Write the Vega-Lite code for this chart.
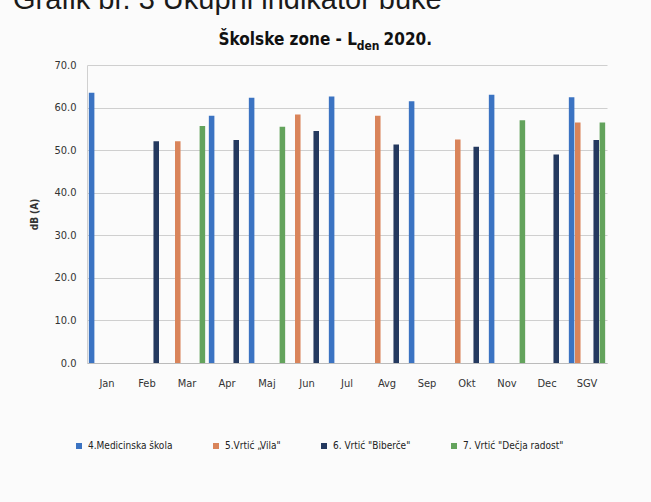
{
  "$schema": "https://vega.github.io/schema/vega-lite/v6.json",
  "background": "#fbfbfb",
  "padding": {"left": 12, "top": -14, "right": 56, "bottom": 54},
  "title": {
    "text": "Grafik br. 3 Ukupni indikator buke",
    "anchor": "start",
    "frame": "bounds",
    "font": "Liberation Sans",
    "fontSize": 29,
    "fontWeight": "normal",
    "color": "#1a1a1a",
    "dx": -17,
    "offset": 16
  },
  "config": {
    "font": "DejaVu Sans Condensed, Liberation Sans, sans-serif",
    "view": {"stroke": null}
  },
  "vconcat": [
    {
      "width": 520,
      "height": 298,
      "title": {
        "text": "Školske zone - L\u00a0\u00a0\u00a0\u00a0\u00a02020.",
        "subtitle": "den\u00a0\u00a0\u00a0\u00a0\u00a0\u00a0\u00a0\u00a0\u00a0\u00a0\u00a0\u00a0\u00a0\u00a0\u200b",
        "anchor": "end",
        "fontSize": 17,
        "fontWeight": "bold",
        "color": "#111",
        "subtitleFontSize": 12,
        "subtitleFontWeight": "bold",
        "subtitleColor": "#111",
        "subtitlePadding": -8,
        "dx": -175,
        "offset": 6
      },
      "data": {
        "values": [
          {"mjesec": "Jan", "lokacija": "4.Medicinska škola", "dB": 63.5},
          {"mjesec": "Feb", "lokacija": "6. Vrtić \"Biberče\"", "dB": 52.1},
          {"mjesec": "Mar", "lokacija": "5.Vrtić „Vila\"", "dB": 52.1},
          {"mjesec": "Mar", "lokacija": "7. Vrtić \"Dečja radost\"", "dB": 55.7},
          {"mjesec": "Apr", "lokacija": "4.Medicinska škola", "dB": 58.1},
          {"mjesec": "Apr", "lokacija": "6. Vrtić \"Biberče\"", "dB": 52.4},
          {"mjesec": "Maj", "lokacija": "4.Medicinska škola", "dB": 62.3},
          {"mjesec": "Maj", "lokacija": "7. Vrtić \"Dečja radost\"", "dB": 55.5},
          {"mjesec": "Jun", "lokacija": "5.Vrtić „Vila\"", "dB": 58.4},
          {"mjesec": "Jun", "lokacija": "6. Vrtić \"Biberče\"", "dB": 54.5},
          {"mjesec": "Jul", "lokacija": "4.Medicinska škola", "dB": 62.6},
          {"mjesec": "Avg", "lokacija": "5.Vrtić „Vila\"", "dB": 58.1},
          {"mjesec": "Avg", "lokacija": "6. Vrtić \"Biberče\"", "dB": 51.3},
          {"mjesec": "Sep", "lokacija": "4.Medicinska škola", "dB": 61.5},
          {"mjesec": "Okt", "lokacija": "5.Vrtić „Vila\"", "dB": 52.5},
          {"mjesec": "Okt", "lokacija": "6. Vrtić \"Biberče\"", "dB": 50.8},
          {"mjesec": "Nov", "lokacija": "4.Medicinska škola", "dB": 63.0},
          {"mjesec": "Nov", "lokacija": "7. Vrtić \"Dečja radost\"", "dB": 57.0},
          {"mjesec": "Dec", "lokacija": "6. Vrtić \"Biberče\"", "dB": 49.0},
          {"mjesec": "SGV", "lokacija": "4.Medicinska škola", "dB": 62.4},
          {"mjesec": "SGV", "lokacija": "5.Vrtić „Vila\"", "dB": 56.5},
          {"mjesec": "SGV", "lokacija": "6. Vrtić \"Biberče\"", "dB": 52.4},
          {"mjesec": "SGV", "lokacija": "7. Vrtić \"Dečja radost\"", "dB": 56.5}
        ]
      },
      "mark": {"type": "bar"},
      "encoding": {
        "x": {
          "field": "mjesec",
          "type": "nominal",
          "sort": ["Jan", "Feb", "Mar", "Apr", "Maj", "Jun", "Jul", "Avg", "Sep", "Okt", "Nov", "Dec", "SGV"],
          "scale": {"paddingInner": 0, "paddingOuter": 0},
          "axis": {
            "title": null,
            "labelAngle": 0,
            "ticks": false,
            "labelFontSize": 11,
            "labelColor": "#333",
            "labelPadding": 14,
            "domainColor": "#bbbbbb"
          }
        },
        "xOffset": {
          "field": "lokacija",
          "type": "nominal",
          "scale": {
            "domain": ["4.Medicinska škola", "5.Vrtić „Vila\"", " ", "  ", "6. Vrtić \"Biberče\"", "7. Vrtić \"Dečja radost\""],
            "paddingInner": 0.1,
            "paddingOuter": 0.3
          }
        },
        "y": {
          "field": "dB",
          "type": "quantitative",
          "scale": {"domain": [0, 70]},
          "axis": {
            "title": "dB (A)",
            "titleFontSize": 10,
            "titleFontWeight": "bold",
            "titleColor": "#333",
            "titlePadding": 14,
            "values": [0, 10, 20, 30, 40, 50, 60, 70],
            "format": ".1f",
            "labelFontSize": 11,
            "labelColor": "#333",
            "labelPadding": 11,
            "ticks": false,
            "domainColor": "#d0d0d0",
            "gridColor": "#cfcfcf"
          }
        },
        "color": {
          "field": "lokacija",
          "type": "nominal",
          "scale": {
            "domain": ["4.Medicinska škola", "5.Vrtić „Vila\"", "6. Vrtić \"Biberče\"", "7. Vrtić \"Dečja radost\""],
            "range": ["#3b73c2", "#d9845a", "#24395f", "#63a35c"]
          },
          "legend": {
            "title": null,
            "orient": "none",
            "direction": "horizontal",
            "legendX": -13,
            "legendY": 376,
            "symbolType": "square",
            "symbolSize": 36,
            "labelFontSize": 10,
            "labelColor": "#222",
            "columnPadding": 38
          }
        }
      }
    }
  ]
}
